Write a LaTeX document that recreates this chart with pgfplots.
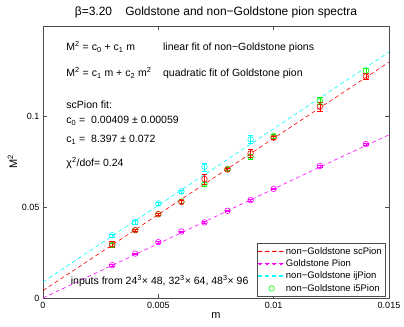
\documentclass[border=0pt]{standalone}
\usepackage{pgfplots}
\pgfplotsset{compat=1.18}
\usepackage{fontspec}
\setmainfont{Liberation Sans}

\definecolor{mred}{rgb}{1,0,0}
\definecolor{mmag}{rgb}{1,0,1}
\definecolor{mcyan}{rgb}{0,1,1}
\definecolor{mgreen}{rgb}{0,1,0}

\pgfplotsset{
  dashleg/.style={legend image code/.code={%
    \fill[fill=#1] (0bp,-0.35bp) rectangle (4bp,0.35bp)
      (7bp,-0.35bp) rectangle (11bp,0.35bp)
      (14bp,-0.35bp) rectangle (18bp,0.35bp)
      (21bp,-0.35bp) rectangle (25bp,0.35bp);}},
  circleg/.style={legend image code/.code={\draw[draw=#1, line width=0.6bp] (13bp,0bp) circle[radius=2.8bp];}},
}

% scPion
\pgfplotstableread{
x      y       e
0.003  0.0297  0.0018
0.004  0.0374  0.0008
0.005  0.0462  0.0008
0.006  0.0530  0.0008
0.007  0.0656  0.0028
0.008  0.0709  0.0008
0.009  0.0798  0.0020
0.010  0.0884  0.0010
0.012  0.1055  0.0025
0.014  0.1221  0.0016
}\scpion
% i5Pion
\pgfplotstableread{
x      y       e
0.003  0.0292  0.0012
0.004  0.0374  0.0008
0.005  0.0462  0.0008
0.006  0.0532  0.0008
0.007  0.0628  0.0012
0.008  0.0711  0.0008
0.009  0.0779  0.0016
0.010  0.0893  0.0010
0.012  0.1087  0.0020
0.014  0.1253  0.0015
}\ifivepion
% ijPion
\pgfplotstableread{
x      y       e
0.003  0.0346  0.0008
0.004  0.0418  0.0010
0.005  0.0521  0.0008
0.006  0.0588  0.0008
0.007  0.0724  0.0022
0.009  0.0875  0.0022
}\ijpion
% Goldstone pion
\pgfplotstableread{
x      y       e
0.003  0.0181  0.0004
0.004  0.0245  0.0004
0.005  0.0308  0.0004
0.006  0.0367  0.0004
0.007  0.0417  0.0004
0.008  0.0481  0.0004
0.009  0.0540  0.0004
0.010  0.0602  0.0004
0.012  0.0728  0.0004
0.014  0.0849  0.0004
}\gpion

\begin{document}
\begin{tikzpicture}
\begin{axis}[
  scale only axis,
  width=346bp, height=272bp,
  xmin=0, xmax=0.015, ymin=0, ymax=0.15,
  xtick={0,0.005,0.01,0.015},
  ytick={0,0.05,0.1},
  scaled ticks=false,
  /pgf/number format/fixed,
  /pgf/number format/precision=3,
  /pgf/number format/assume math mode=true,
  tick align=inside,
  major tick length=4bp,
  axis line style={black!70, line width=0.5bp},
  tick style={black!70, line width=0.5bp},
  tick label style={font=\fontsize{9bp}{10bp}\selectfont},
  xticklabel style={yshift=-1bp},
  title={β=3.20\hspace{1.1em}Goldstone and non−Goldstone pion spectra},
  title style={font=\fontsize{12bp}{14bp}\selectfont, yshift=-1bp},
  xlabel={m}, ylabel={M\textsuperscript{2}},
  label style={font=\fontsize{11bp}{13bp}\selectfont},
  xlabel style={yshift=3bp},
  ylabel style={yshift=-2bp},
  legend style={font=\fontsize{9.5bp}{11bp}\selectfont, at={(0.99,0.006)}, anchor=south east,
    draw=black!70, line width=0.5bp, inner sep=1.5bp, row sep=0bp, cells={anchor=west}},
  legend cell align=left,
  every axis plot/.append style={line width=0.6bp},
  error bars/error bar style={line width=0.6bp},
]
% fit lines
\addplot[color=mred, dash pattern=on 4bp off 3bp, dashleg=mred]
  coordinates {(0,0.00409) (0.015,0.13005)};
\addlegendentry{non−Goldstone scPion}
\addplot[color=mmag, dash pattern=on 4bp off 3bp, smooth, dashleg=mmag]
  coordinates {(0,0) (0.003,0.0180) (0.006,0.0360) (0.009,0.0541) (0.012,0.0722) (0.015,0.0900)};
\addlegendentry{Goldstone Pion}
\addplot[color=mcyan, dash pattern=on 4bp off 3bp, dashleg=mcyan]
  coordinates {(0,0.0088) (0.015,0.1356)};
\addlegendentry{non−Goldstone ijPion}
% data
\addplot[color=mgreen, only marks, mark=o, mark size=2.8bp, circleg=mgreen,
  error bars/.cd, y dir=both, y explicit]
  table[x=x, y=y, y error=e] {\ifivepion};
\addlegendentry{non−Goldstone i5Pion}
\addplot[color=mred, only marks, mark=o, mark size=2.8bp, forget plot,
  error bars/.cd, y dir=both, y explicit]
  table[x=x, y=y, y error=e] {\scpion};
\addplot[color=mcyan, only marks, mark=o, mark size=2.8bp, forget plot,
  error bars/.cd, y dir=both, y explicit]
  table[x=x, y=y, y error=e] {\ijpion};
\addplot[color=mmag, only marks, mark=o, mark size=2.8bp, forget plot,
  error bars/.cd, y dir=both, y explicit]
  table[x=x, y=y, y error=e] {\gpion};
% annotations
\begin{scope}[every node/.style={font=\fontsize{10.5bp}{12.5bp}\selectfont, anchor=base west, inner sep=0pt}]
\node at (axis cs:0.00101,0.1365) {M\textsuperscript{2} = c\textsubscript{0} + c\textsubscript{1} m};
\node at (axis cs:0.0052,0.1365) {linear fit of non−Goldstone pions};
\node at (axis cs:0.00101,0.1221) {M\textsuperscript{2} = c\textsubscript{1} m + c\textsubscript{2} m\textsuperscript{2}};
\node at (axis cs:0.0052,0.1221) {quadratic fit of Goldstone pion};
\node at (axis cs:0.00101,0.1046) {scPion fit:};
\node at (axis cs:0.00101,0.0960) {c\textsubscript{0} =\ \ 0.00409 ± 0.00059};
\node at (axis cs:0.00101,0.0856) {c\textsubscript{1} =\ \ 8.397 ± 0.072};
\node at (axis cs:0.00101,0.0724) {χ\textsuperscript{2}/dof= 0.24};
\node at (axis cs:0.0012,0.0076) {inputs from 24\textsuperscript{3}× 48, 32\textsuperscript{3}× 64, 48\textsuperscript{3}× 96};
\end{scope}
\end{axis}
\path ([shift={(-43bp,-29bp)}]current axis.south west) rectangle ([shift={(15bp,26bp)}]current axis.north east);
\end{tikzpicture}
\end{document}
